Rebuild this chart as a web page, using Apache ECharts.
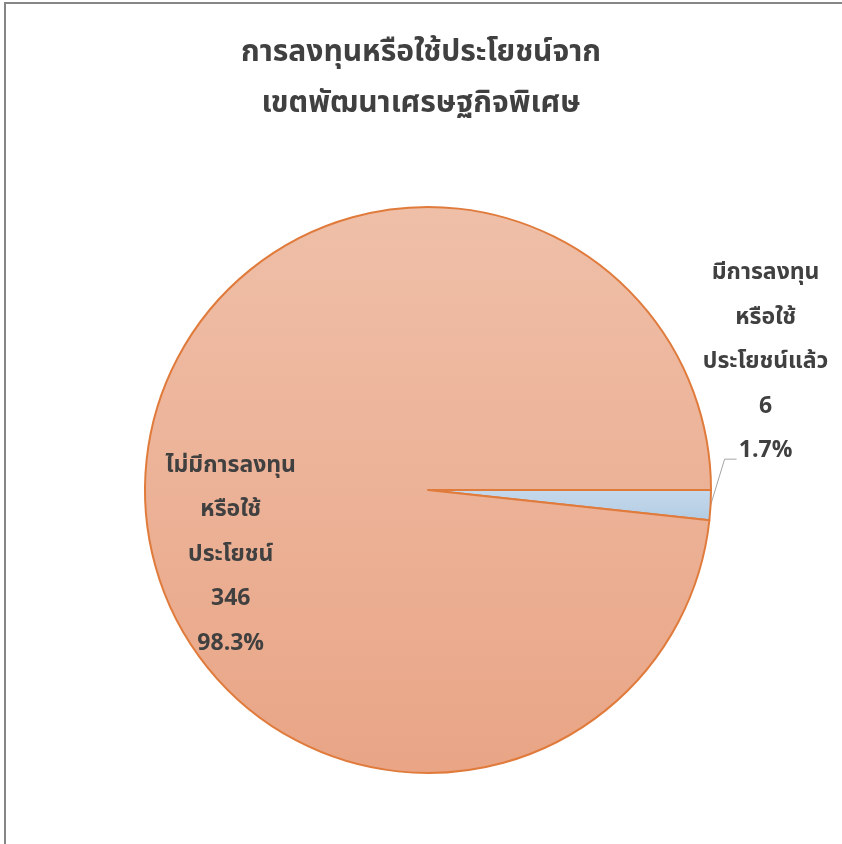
<!DOCTYPE html>
<html>
<head>
<meta charset="utf-8">
<script src="https://cdn.jsdelivr.net/npm/echarts@6/dist/echarts.min.js"></script>
<style>html,body{margin:0;padding:0;background:#fff}#c{width:842px;height:844px}</style>
</head>
<body>
<div id="c"></div>
<script>
const titleLines = ['การลงทุนหรือใช้ประโยชน์จาก', 'เขตพัฒนาเศรษฐกิจพิเศษ'];
const categories = ['มีการลงทุน\nหรือใช้\nประโยชน์แล้ว', 'ไม่มีการลงทุน\nหรือใช้\nประโยชน์'];
const values = [6, 346];

const FONT = '"Noto Sans Thai", "Noto Sans", "DejaVu Sans", sans-serif';
const chart = echarts.init(document.getElementById('c'));
const fills = [
  new echarts.graphic.LinearGradient(0, 0, 0, 1, [{offset: 0, color: '#C6D9EC'}, {offset: 1, color: '#B2CCE3'}]),
  new echarts.graphic.LinearGradient(0, 0, 0, 1, [{offset: 0, color: '#EFBFA8'}, {offset: 1, color: '#E9A586'}])
];
chart.setOption({
  animation: false,
  backgroundColor: '#fff',
  title: {
    text: titleLines.join('\n'),
    left: 'center',
    top: 24,
    textStyle: {fontFamily: FONT, fontSize: 30, fontWeight: 'bold', color: '#404040', lineHeight: 51}
  },
  graphic: [{
    type: 'polyline',
    shape: {points: [[5, 900], [5, 3], [900, 3]]},
    style: {stroke: '#868686', lineWidth: 2, fill: null}
  }],
  series: [{
    type: 'pie',
    center: [428, 490],
    radius: 283,
    startAngle: 0,
    clockwise: true,
    percentPrecision: 1,
    data: categories.map((n, i) => ({
      name: n,
      value: values[i],
      itemStyle: {color: fills[i]},
      label: i === 0 ? {position: 'outside'} : {position: 'inside'}
    })),
    itemStyle: {borderColor: '#E07B3C', borderWidth: 2},
    label: {
      formatter: '{b}\n{c}\n{d}%',
      fontFamily: FONT, fontSize: 23, fontWeight: 'bold', color: '#404040',
      lineHeight: 44.5, align: 'center', overflow: 'none'
    },
    labelLine: {show: true, length: 12, length2: 12, lineStyle: {color: '#A6A6A6', width: 1}},
    labelLayout: function (p) {
      if (p.dataIndex === 1) return {dx: -53, dy: 74};
      const s = p.labelLinePoints ? p.labelLinePoints[0] : null;
      const out = {align: 'center', dx: 26, dy: -142};
      if (s) out.labelLinePoints = [s, [s[0] + 14, s[1] - 46], [s[0] + 26, s[1] - 46]];
      return out;
    },
    emphasis: {disabled: true}
  }]
});
</script>
</body>
</html>
